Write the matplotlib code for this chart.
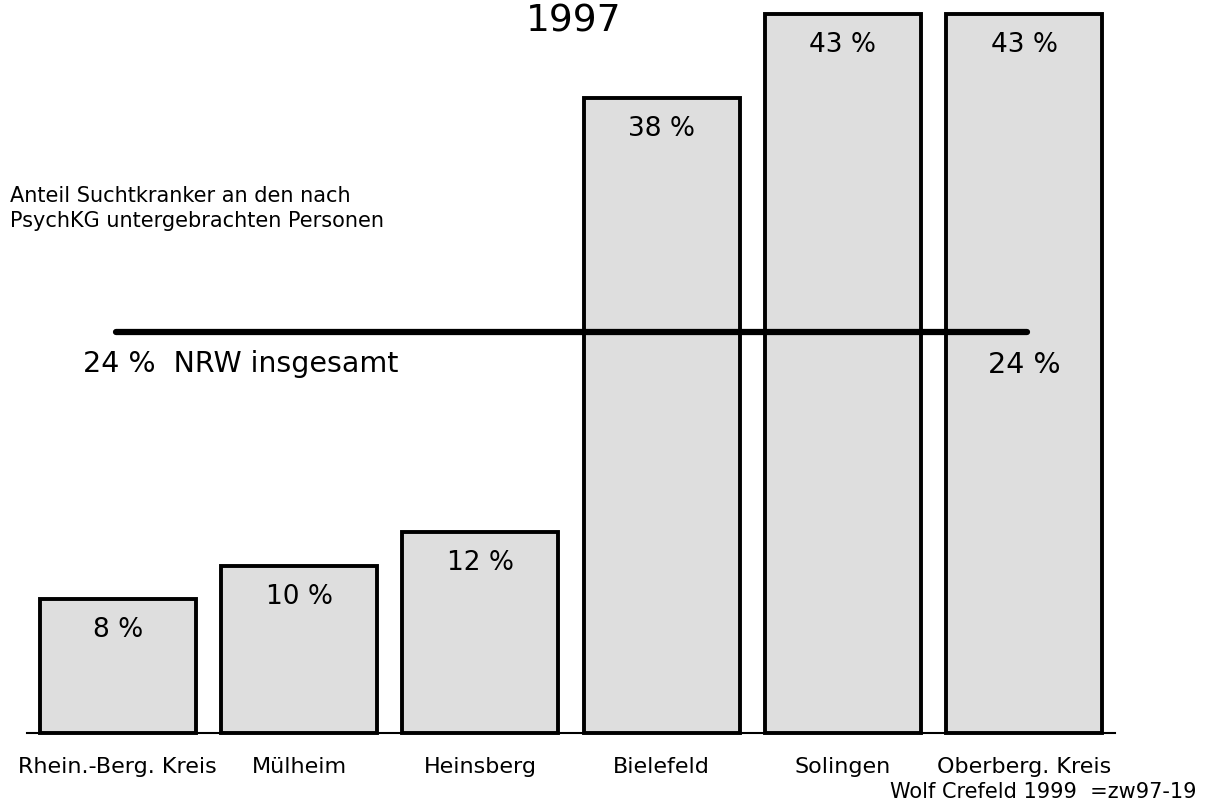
import matplotlib
matplotlib.use("Agg")
import matplotlib.pyplot as plt

categories = ["Rhein.-Berg. Kreis", "Mülheim", "Heinsberg", "Bielefeld", "Solingen", "Oberberg. Kreis"]
values = [8, 10, 12, 38, 43, 43]
value_labels = ["8 %", "10 %", "12 %", "38 %", "43 %", "43 %"]
nrw_value = 24
nrw_label = "24 %  NRW insgesamt"
nrw_right_label = "24 %"
title = "1997"
subtitle = ["Anteil Suchtkranker an den nach", "PsychKG untergebrachten Personen"]
footer = "Wolf Crefeld 1999  =zw97-19"

plt.rcParams['font.family'] = ['DejaVu Sans']

W, H = 1207, 805
PX = 72 / 100  # points per pixel
fig = plt.figure(figsize=(W / 100, H / 100), dpi=100)
# axes spanning x 27..1115 px, y 733 (bottom) .. 0 (top)
ax = fig.add_axes([27 / W, (H - 733) / H, 1088 / W, 733 / H])
ax.set_xlim(-0.5, 5.5)
ax.set_ylim(0, 733 / 16.72)
ax.axis('off')

x = list(range(len(categories)))
ax.bar(x, values, width=0.86, color="#dedede", edgecolor="black", linewidth=2.8,
       zorder=2, clip_on=False)
ax.plot([-0.5, 5.5], [0, 0], color="black", linewidth=1.5, zorder=1, clip_on=False)

for xi, v, lab in zip(x, values, value_labels):
    ax.annotate(lab, (xi, v), xytext=(0, -38 * PX), textcoords="offset points",
                ha="center", va="baseline", fontsize=19, zorder=3)

for xi, cat in zip(x, categories):
    ax.annotate(cat, (xi, 0), xytext=(0, -40 * PX), textcoords="offset points",
                ha="center", va="baseline", fontsize=16)

# NRW line
ax.plot([-0.01, 5.015], [nrw_value, nrw_value], color="black", linewidth=4.5,
        solid_capstyle="round", zorder=4, clip_on=False)
fig.text(83 / W, 1 - 372 / H, nrw_label, ha="left", va="baseline", fontsize=20.5, zorder=5)
ax.annotate(nrw_right_label, (5, nrw_value), xytext=(0, -(372 - 331) * PX), textcoords="offset points",
            ha="center", va="baseline", fontsize=20.5, zorder=5)

fig.text(574 / W, 1 - 31 / H, title, ha="center", va="baseline", fontsize=27)
fig.text(10 / W, 1 - 202 / H, subtitle[0], ha="left", va="baseline", fontsize=15)
fig.text(10 / W, 1 - 227 / H, subtitle[1], ha="left", va="baseline", fontsize=15)
fig.text(1196 / W, 1 - 798 / H, footer, ha="right", va="baseline", fontsize=15)

fig.savefig("out.png", dpi=100)
